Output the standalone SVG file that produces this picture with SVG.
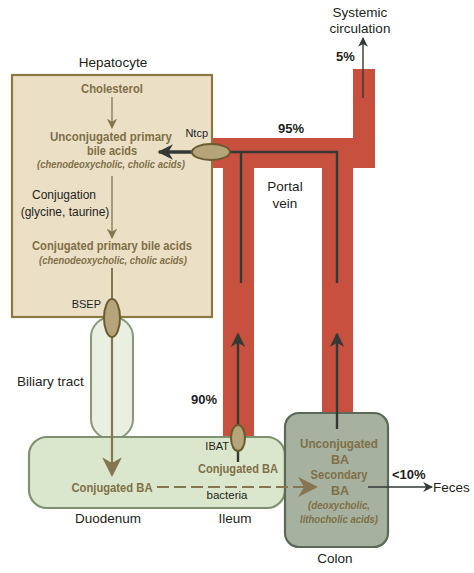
<svg xmlns="http://www.w3.org/2000/svg" width="474" height="573" viewBox="0 0 474 573">
<defs>
<style>
.lbl{font-family:"Liberation Sans",Arial,sans-serif;font-size:13.5px;fill:#231f20}
.sm{font-family:"Liberation Sans",Arial,sans-serif;font-size:11px;fill:#231f20}
.pct{font-family:"Liberation Sans",Arial,sans-serif;font-size:13px;font-weight:bold;fill:#231f20}
.ol{font-family:"Liberation Sans",Arial,sans-serif;font-size:12.5px;font-weight:bold;fill:#7f6f47}
.oli{font-family:"Liberation Sans",Arial,sans-serif;font-size:10.5px;font-weight:bold;font-style:italic;fill:#7f6f47}
.vein{fill:#c7503e}
.tp{fill:#b6a57a;stroke:#6b5b2e;stroke-width:2}
.dk{stroke:#333a36;fill:none}
.br{stroke:#857550;fill:none}
</style>
<marker id="ahDark" viewBox="0 0 10 10" refX="9" refY="5" markerWidth="7" markerHeight="6" orient="auto" markerUnits="strokeWidth">
<path d="M0,0 L10,5 L0,10 L3,5 z" fill="#333a36"/>
</marker>
<marker id="ahNtcp" viewBox="0 0 10 10" refX="9" refY="5" markerWidth="5" markerHeight="4.6" orient="auto" markerUnits="strokeWidth">
<path d="M0,0 L10,5 L0,10 L3,5 z" fill="#333a36"/>
</marker>
<marker id="ahThin" viewBox="0 0 10 10" refX="9" refY="5" markerWidth="7" markerHeight="7" orient="auto" markerUnits="strokeWidth">
<path d="M0,0 L10,5 L0,10 L3,5 z" fill="#333a36"/>
</marker>
<marker id="ahBr" viewBox="0 0 10 10" refX="9" refY="5" markerWidth="8" markerHeight="8" orient="auto" markerUnits="strokeWidth">
<path d="M0,0 L10,5 L0,10 L3,5 z" fill="#857550"/>
</marker>
<marker id="ahBrBig" viewBox="0 0 10 10" refX="9" refY="5" markerWidth="9" markerHeight="10" orient="auto" markerUnits="strokeWidth">
<path d="M0,0 L10,5 L0,10 L3,5 z" fill="#857550"/>
</marker>
</defs>
<rect width="474" height="573" fill="#ffffff"/>

<g id="portal-vein">
<rect class="vein" x="212" y="138" width="163" height="30"/>
<rect class="vein" x="353" y="69" width="22" height="99"/>
<rect class="vein" x="223" y="166" width="31" height="273"/>
<rect class="vein" x="322" y="166" width="31" height="250"/>
<text class="lbl" x="285" y="191" text-anchor="middle">Portal</text>
<text class="lbl" x="285" y="208" text-anchor="middle">vein</text>
</g>

<g id="hepatocyte">
<text class="lbl" x="113" y="67" text-anchor="middle">Hepatocyte</text>
<rect x="12" y="75" width="200" height="242" fill="#ebdfc6" stroke="#8b7a3f" stroke-width="2.2"/>
<text class="ol" x="112" y="93" text-anchor="middle" textLength="62" lengthAdjust="spacingAndGlyphs">Cholesterol</text>
<text class="ol" x="111" y="141" text-anchor="middle" textLength="122" lengthAdjust="spacingAndGlyphs">Unconjugated primary</text>
<text class="ol" x="112" y="155" text-anchor="middle" textLength="50" lengthAdjust="spacingAndGlyphs">bile acids</text>
<text class="oli" x="111" y="168" text-anchor="middle" textLength="148" lengthAdjust="spacingAndGlyphs">(chenodeoxycholic, cholic acids)</text>
<text class="sm" x="64" y="199" text-anchor="middle" style="font-size:12px">Conjugation</text>
<text class="sm" x="65" y="216" text-anchor="middle" style="font-size:12px">(glycine, taurine)</text>
<text class="ol" x="112" y="250" text-anchor="middle" textLength="160" lengthAdjust="spacingAndGlyphs">Conjugated primary bile acids</text>
<text class="oli" x="113" y="264" text-anchor="middle" textLength="148" lengthAdjust="spacingAndGlyphs">(chenodeoxycholic, cholic acids)</text>
</g>

<g id="biliary-tract">
<rect x="91" y="317" width="42" height="122" rx="20" fill="#e9efe1" stroke="#879878" stroke-width="2"/>
<text class="lbl" x="17" y="386">Biliary tract</text>
</g>

<g id="intestine">
<rect x="29" y="437" width="256" height="71" rx="18" fill="#dbe7cc" stroke="#7f9070" stroke-width="2.2"/>
<text class="ol" x="112" y="492" text-anchor="middle" textLength="81" lengthAdjust="spacingAndGlyphs">Conjugated BA</text>
<text class="ol" x="238" y="473" text-anchor="middle" textLength="80" lengthAdjust="spacingAndGlyphs">Conjugated BA</text>
<text class="sm" x="227" y="499" text-anchor="middle" style="font-size:11.5px">bacteria</text>
<text class="lbl" x="108" y="523" text-anchor="middle">Duodenum</text>
<text class="lbl" x="235" y="523" text-anchor="middle">Ileum</text>
</g>

<g id="colon">
<rect x="285" y="413" width="103" height="134" rx="14" fill="#a6b19f" stroke="#5d6958" stroke-width="2.2"/>
<text class="ol" x="339" y="448" text-anchor="middle" textLength="78" lengthAdjust="spacingAndGlyphs">Unconjugated</text>
<text class="ol" x="340" y="464" text-anchor="middle">BA</text>
<text class="ol" x="339" y="479" text-anchor="middle" textLength="57" lengthAdjust="spacingAndGlyphs">Secondary</text>
<text class="ol" x="340" y="495" text-anchor="middle">BA</text>
<text class="oli" x="339" y="509" text-anchor="middle" textLength="62" lengthAdjust="spacingAndGlyphs">(deoxycholic,</text>
<text class="oli" x="339" y="523" text-anchor="middle" textLength="78" lengthAdjust="spacingAndGlyphs">lithocholic acids)</text>
<text class="lbl" x="335" y="563" text-anchor="middle">Colon</text>
</g>

<g id="connectors">
<line class="br" x1="112" y1="97" x2="112" y2="128" stroke-width="1.3" marker-end="url(#ahBr)"/>
<line class="br" x1="112" y1="176" x2="112" y2="238" stroke-width="1.3" marker-end="url(#ahBr)"/>
<line class="br" x1="112" y1="268" x2="112" y2="300" stroke-width="2"/>
<line class="br" x1="112" y1="336" x2="112" y2="475" stroke-width="2.2" marker-end="url(#ahBrBig)"/>
<line x1="157" y1="487" x2="316" y2="487" stroke="#857550" stroke-width="2.2" stroke-dasharray="12,5" marker-end="url(#ahBrBig)"/>
<path class="dk" d="M230,152 H337 V283" stroke-width="2.4"/>
<line class="dk" x1="241" y1="152" x2="241" y2="283" stroke-width="2.4"/>
<line class="dk" x1="238" y1="462" x2="238" y2="449" stroke-width="2.4"/>
<line class="dk" x1="238" y1="426" x2="238" y2="334" stroke-width="2.4" marker-end="url(#ahDark)"/>
<line class="dk" x1="337" y1="429" x2="337" y2="334" stroke-width="2.4" marker-end="url(#ahDark)"/>
<line class="dk" x1="193" y1="152" x2="159" y2="152" stroke-width="3.4" marker-end="url(#ahNtcp)"/>
<line class="dk" x1="363" y1="98" x2="363" y2="38" stroke-width="1.4" marker-end="url(#ahThin)"/>
<line class="dk" x1="368" y1="487" x2="432" y2="487" stroke-width="1.4" marker-end="url(#ahThin)"/>
</g>

<g id="transporters">
<ellipse id="ntcp" class="tp" cx="211" cy="152" rx="19" ry="8"/>
<text class="sm" x="208" y="137" text-anchor="end">Ntcp</text>
<ellipse id="bsep" class="tp" cx="112" cy="318" rx="8" ry="19"/>
<text class="sm" x="101" y="308" text-anchor="end">BSEP</text>
<ellipse id="ibat" class="tp" cx="238" cy="438" rx="7" ry="13"/>
<text class="sm" x="229" y="450" text-anchor="end">IBAT</text>
</g>

<g id="labels">
<text class="lbl" x="360" y="17" text-anchor="middle">Systemic</text>
<text class="lbl" x="360" y="33" text-anchor="middle">circulation</text>
<text class="pct" x="336" y="61">5%</text>
<text class="pct" x="291" y="133" text-anchor="middle">95%</text>
<text class="pct" x="191" y="404">90%</text>
<text class="pct" x="392" y="479">&lt;10%</text>
<text class="lbl" x="433" y="492">Feces</text>
</g>
</svg>
